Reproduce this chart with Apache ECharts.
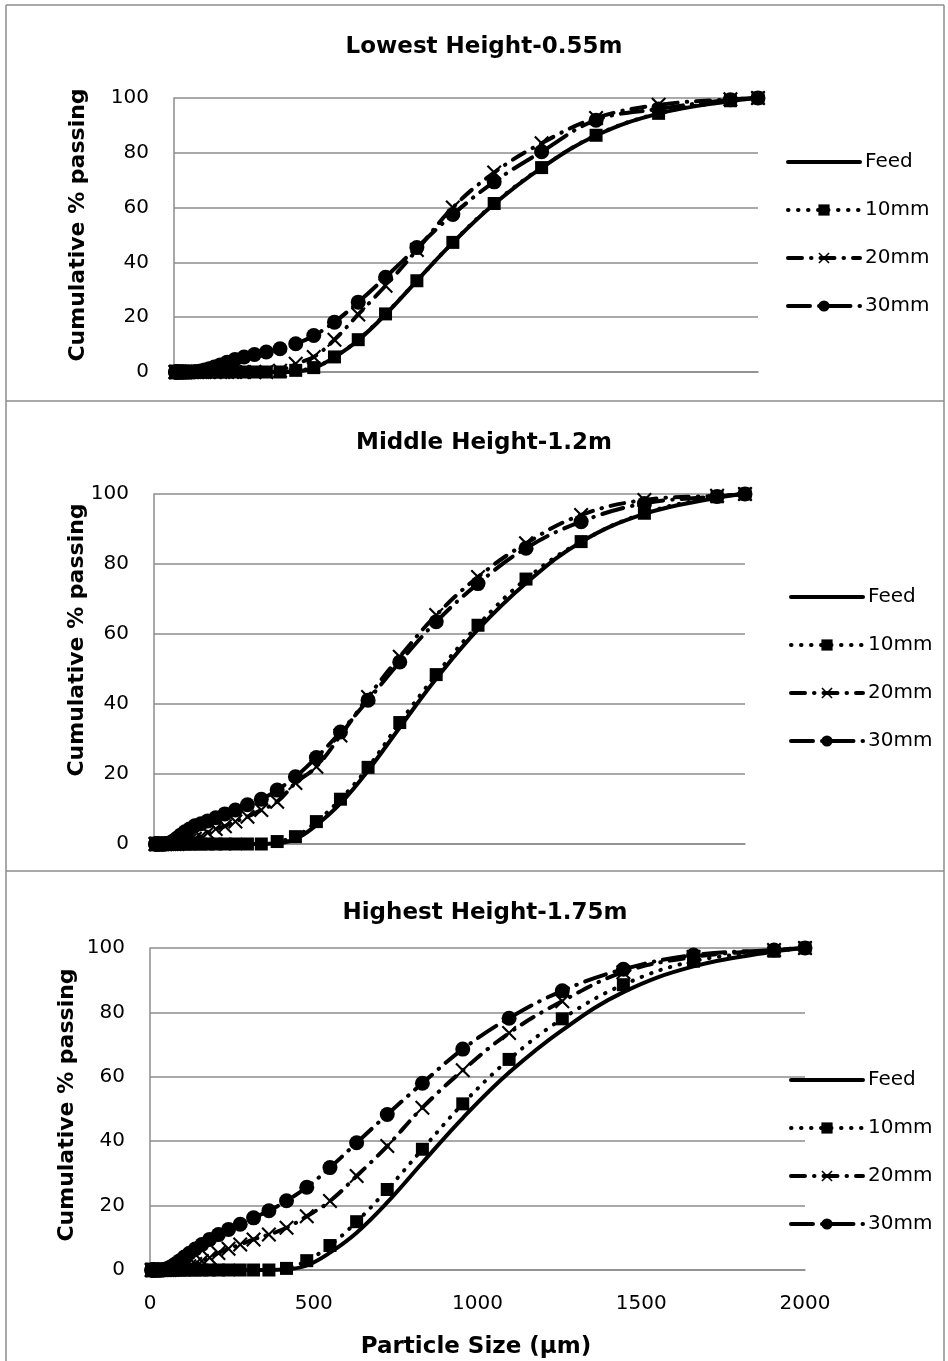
<!DOCTYPE html>
<html>
<head>
<meta charset="utf-8">
<script src="https://cdn.jsdelivr.net/npm/echarts@6/dist/echarts.min.js"></script>
<style>
  html, body { margin: 0; padding: 0; background: #ffffff; }
  #chart { width: 948px; height: 1361px; }
</style>
</head>
<body>
<div id="chart"></div>
<script>
// Particle size classes (µm), shared by every curve
const sizes = [5.01, 5.75, 6.61, 7.59, 8.71, 10.0, 11.48, 13.18, 15.14, 17.38,
  19.95, 22.91, 26.3, 30.2, 34.67, 39.81, 45.71, 52.48, 60.26, 69.18,
  79.43, 91.2, 104.71, 120.23, 138.04, 158.49, 181.97, 208.93, 239.88, 275.42,
  316.23, 363.08, 416.87, 478.63, 549.54, 630.96, 724.44, 831.76, 954.99, 1096.48,
  1258.93, 1445.44, 1659.59, 1905.46, 2000];

// Cumulative % passing of the feed material
const feed = [0, 0, 0, 0, 0, 0, 0, 0, 0, 0,
  0, 0, 0, 0, 0, 0, 0, 0, 0, 0,
  0, 0, 0, 0, 0, 0, 0, 0, 0, 0,
  0, 0, 0.2, 1.4, 5.4, 11.6, 21.0, 33.3, 47.2, 61.3,
  74.5, 86.3, 94.3, 98.9, 100];

// Lowest height (0.55 m)
const low10 = [0, 0, 0, 0, 0, 0, 0, 0, 0, 0,
  0, 0, 0, 0, 0, 0, 0, 0, 0, 0,
  0, 0, 0, 0, 0, 0, 0, 0, 0, 0,
  0, 0, 0.6, 1.6, 5.5, 11.8, 21.2, 33.3, 47.3, 61.5,
  74.6, 86.4, 94.4, 99.0, 100];
const low20 = [0, 0, 0, 0, 0, 0, 0, 0, 0, 0,
  0, 0, 0, 0, 0, 0, 0, 0, 0, 0,
  0, 0, 0, 0, 0, 0, 0, 0, 0, 0,
  0, 0.5, 3.0, 5.5, 11.8, 21.0, 31.5, 44.5, 60.0, 72.8,
  83.5, 92.7, 97.5, 99.5, 100];
const low30 = [0, 0, 0, 0, 0, 0, 0, 0, 0, 0,
  0, 0, 0, 0, 0, 0, 0, 0, 0, 0.1,
  0.2, 0.4, 0.7, 1.2, 1.8, 2.6, 3.6, 4.6, 5.5, 6.4,
  7.3, 8.5, 10.3, 13.3, 18.2, 25.5, 34.6, 45.4, 57.5, 69.4,
  80.4, 91.9, 96.0, 99.4, 100];

// Middle height (1.2 m)
const mid10 = [0, 0, 0, 0, 0, 0, 0, 0, 0, 0,
  0, 0, 0, 0, 0, 0, 0, 0, 0, 0,
  0, 0, 0, 0, 0, 0, 0, 0, 0, 0,
  0, 0, 0.7, 2.1, 6.4, 12.8, 21.9, 34.7, 48.4, 62.5,
  75.7, 86.4, 94.5, 99.2, 100];
const mid20 = [0, 0, 0, 0, 0, 0, 0, 0, 0, 0,
  0, 0, 0, 0, 0, 0, 0, 0, 0, 0,
  0, 0.3, 0.6, 1.0, 1.5, 2.1, 3.2, 4.3, 5.1, 6.4,
  7.8, 9.7, 12.1, 17.4, 22.1, 31.0, 42.0, 53.5, 65.4, 76.3,
  85.9, 94.0, 98.3, 99.5, 100];
const mid30 = [0, 0, 0, 0, 0, 0, 0, 0, 0, 0,
  0, 0, 0, 0, 0, 0.05, 0.15, 0.3, 0.6, 1.1,
  1.8, 2.6, 3.5, 4.3, 5.2, 5.8, 6.6, 7.5, 8.6, 9.7,
  11.2, 12.8, 15.4, 19.2, 24.7, 32.0, 41.1, 52.0, 63.5, 74.4,
  84.5, 92.1, 97.3, 99.3, 100];

// Highest height (1.75 m)
const high10 = [0, 0, 0, 0, 0, 0, 0, 0, 0, 0,
  0, 0, 0, 0, 0, 0, 0, 0, 0, 0,
  0, 0, 0, 0, 0, 0, 0, 0, 0, 0,
  0, 0, 0.5, 2.9, 7.6, 15.0, 25.0, 37.5, 51.6, 65.4,
  78.0, 88.6, 95.9, 99.0, 100];
const high20 = [0, 0, 0, 0, 0, 0, 0, 0, 0, 0,
  0, 0, 0, 0, 0, 0, 0, 0, 0, 0.1,
  0.2, 0.4, 0.7, 1.2, 1.9, 2.8, 3.8, 5.3, 6.6, 7.9,
  9.5, 11.0, 13.1, 16.7, 21.4, 29.2, 38.5, 50.4, 62.0, 73.6,
  83.5, 92.5, 97.2, 99.4, 100];
const high30 = [0, 0, 0, 0, 0, 0, 0, 0, 0, 0,
  0, 0, 0, 0, 0, 0.05, 0.2, 0.4, 0.8, 1.3,
  2.0, 2.9, 4.0, 5.2, 6.5, 7.9, 9.5, 11.0, 12.6, 14.2,
  16.2, 18.4, 21.5, 25.7, 31.8, 39.5, 48.3, 58.0, 68.6, 78.2,
  86.7, 93.4, 97.8, 99.4, 100];

const panelTitles = ['Lowest Height-0.55m', 'Middle Height-1.2m', 'Highest Height-1.75m'];
const seriesNames = ['Feed', '10mm', '20mm', '30mm'];
const yAxisTitle = 'Cumulative % passing';
const xAxisTitle = 'Particle Size (µm)';

const panelData = [
  [feed, low10, low20, low30],
  [feed, mid10, mid20, mid30],
  [feed, high10, high20, high30]
];

// ---- layout of the three stacked panels ----
const panels = [
  { grid: { left: 174, top: 98, width: 584, height: 274 }, title: [484, 47], yTitle: [78, 225], legend: [786, 152], xLabels: false },
  { grid: { left: 154, top: 494, width: 591, height: 350 }, title: [484, 443], yTitle: [77, 640], legend: [789, 587], xLabels: false },
  { grid: { left: 150, top: 948, width: 655, height: 322 }, title: [485, 913], yTitle: [67, 1105], legend: [789, 1070], xLabels: true }
];

const GRID_GREY = '#8c8c8c';
const TEXT_FONT = 'DejaVu Sans';
const crossSymbol = 'path://M2,0 L10,8 L18,0 L20,2 L12,10 L20,18 L18,20 L10,12 L2,20 L0,18 L8,10 L0,2 Z';

// line / marker look of each curve
const styles = [
  { symbol: 'none', symbolSize: 0, line: { width: 4, type: 'solid', cap: 'round' } },
  { symbol: 'rect', symbolSize: 13, line: { width: 4, type: [0.5, 9.5], cap: 'round' } },
  { symbol: crossSymbol, symbolSize: 15, line: { width: 4, type: [14, 9, 0.5, 9], cap: 'round' } },
  { symbol: 'circle', symbolSize: 15, line: { width: 4, type: [22, 9, 0.5, 9], cap: 'round' } }
];

// legend entries carry the same strokes as the curves
const legendItems = seriesNames.map((name, si) => ({
  name: name,
  lineStyle: Object.assign({ color: '#000' }, styles[si].line),
  itemStyle: si === 0 ? { color: 'rgba(0,0,0,0)', borderWidth: 0 } : { color: '#000', borderWidth: 0 }
}));

const grids = [], xAxes = [], yAxes = [], series = [], legends = [], graphics = [];

panels.forEach((p, pi) => {
  grids.push(Object.assign({ containLabel: false }, p.grid));
  xAxes.push({
    type: 'value', gridIndex: pi, min: 0, max: 2000, interval: 500,
    axisLine: { show: true, lineStyle: { color: GRID_GREY, width: 1.5 } },
    axisTick: { show: false },
    splitLine: { show: false },
    axisLabel: { show: p.xLabels, fontFamily: TEXT_FONT, fontSize: 20, color: '#000', margin: 24,
      formatter: v => String(v) }
  });
  yAxes.push({
    type: 'value', gridIndex: pi, min: 0, max: 100, interval: 20,
    axisLine: { show: true, lineStyle: { color: GRID_GREY, width: 1.5 } },
    axisTick: { show: false },
    splitLine: { show: true, lineStyle: { color: GRID_GREY, width: 1.5 } },
    axisLabel: { fontFamily: TEXT_FONT, fontSize: 20, color: '#000', margin: 25 }
  });
  panelData[pi].forEach((vals, si) => {
    const st = styles[si];
    series.push({
      name: seriesNames[si],
      type: 'line',
      xAxisIndex: pi, yAxisIndex: pi,
      data: sizes.map((s, k) => [s, vals[k]]),
      symbol: st.symbol,
      symbolSize: st.symbolSize,
      showSymbol: st.symbol !== 'none',
      smooth: 0.4,
      clip: false,
      lineStyle: Object.assign({ color: '#000' }, st.line),
      itemStyle: { color: '#000', borderWidth: 0 },
      emphasis: { disabled: true },
      z: 2 + si
    });
  });
  legends.push({
    orient: 'vertical',
    left: p.legend[0], top: p.legend[1],
    padding: 0,
    itemWidth: 72, itemHeight: 14, itemGap: 28,
    selectedMode: false,
    data: legendItems,
    textStyle: { fontFamily: TEXT_FONT, fontSize: 20, color: '#000', lineHeight: 20 }
  });
  graphics.push({
    type: 'text', x: p.title[0], y: p.title[1],
    style: { text: panelTitles[pi], font: 'bold 23px "DejaVu Sans"', fill: '#000', align: 'center', verticalAlign: 'middle' }
  });
  graphics.push({
    type: 'text', x: p.yTitle[0], y: p.yTitle[1], rotation: Math.PI / 2,
    style: { text: yAxisTitle, font: 'bold 22px "DejaVu Sans"', fill: '#000', align: 'center', verticalAlign: 'middle' }
  });
});

graphics.push({
  type: 'text', x: 476, y: 1347,
  style: { text: xAxisTitle, font: 'bold 23px "DejaVu Sans"', fill: '#000', align: 'center', verticalAlign: 'middle' }
});

// outer frame and panel separators
const frameStyle = { stroke: GRID_GREY, lineWidth: 1.5 };
[
  [6, 5, 944, 5], [6, 5, 6, 1361], [944, 5, 944, 1361],
  [6, 401, 944, 401], [6, 871, 944, 871]
].forEach(s => graphics.push({
  type: 'line', shape: { x1: s[0], y1: s[1], x2: s[2], y2: s[3] }, style: frameStyle, silent: true
}));

const chart = echarts.init(document.getElementById('chart'), null, { renderer: 'canvas', width: 948, height: 1361 });
chart.setOption({
  backgroundColor: '#ffffff',
  animation: false,
  grid: grids,
  xAxis: xAxes,
  yAxis: yAxes,
  legend: legends,
  series: series,
  graphic: graphics
});
</script>
</body>
</html>
